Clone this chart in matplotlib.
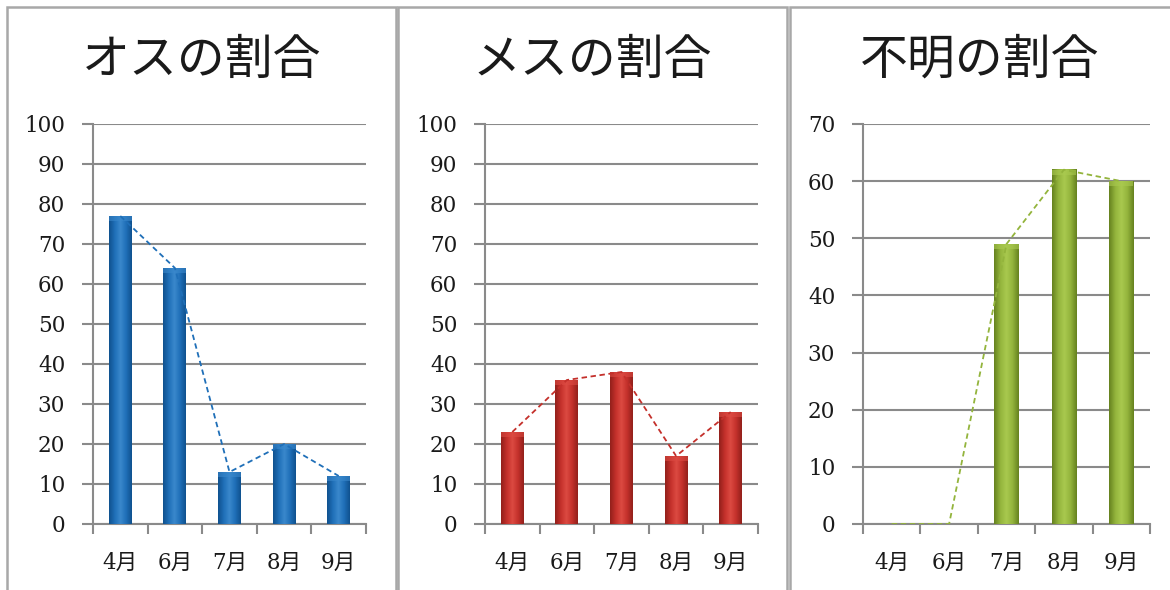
import numpy as np
import matplotlib
matplotlib.use("Agg")
import matplotlib.pyplot as plt
from matplotlib.colors import LinearSegmentedColormap
from matplotlib.patches import Rectangle

months = ["4月", "6月", "7月", "8月", "9月"]
titles = ["オスの割合", "メスの割合", "不明の割合"]
male = [77, 64, 13, 20, 12]
female = [23, 36, 38, 17, 28]
unknown = [0, 0, 49, 62, 60]
ymaxes = [100, 100, 70]

W, H = 1170, 590
fig = plt.figure(figsize=(W / 100, H / 100), dpi=100)
fig.patch.set_facecolor("white")

series = [male, female, unknown]
base_colors = ["#1f6fb8", "#c4302b", "#93b43c"]
dark_colors = ["#10528f", "#92201b", "#66821f"]
light_colors = ["#3a88cc", "#dc4a42", "#a9c94f"]

axes_px = [(93, 366), (485, 758), (863, 1150)]
frames_px = [(7, 396), (398, 787), (790, 1178)]
top_px, bot_px = 124, 524
grid_c = "#8a8a8a"
num_font = ["DejaVu Serif", "Noto Sans CJK JP"]

for i in range(3):
    # panel frame
    fx0, fx1 = frames_px[i]
    fig.patches.append(Rectangle((fx0 / W, -0.05), (fx1 - fx0) / W, (H - 7) / H + 0.05,
                                 transform=fig.transFigure, fill=False,
                                 edgecolor="#a8a8a8", linewidth=1.8))
    x0, x1 = axes_px[i]
    ax = fig.add_axes([x0 / W, (H - bot_px) / H, (x1 - x0) / W, (bot_px - top_px) / H])
    vals = series[i]
    xs = np.arange(len(months))
    bw = 0.42
    cmap = LinearSegmentedColormap.from_list(
        "g", [dark_colors[i], base_colors[i], light_colors[i], base_colors[i], dark_colors[i]])
    grad = np.linspace(0, 1, 64).reshape(1, -1)
    for x, v in zip(xs, vals):
        if v <= 0:
            continue
        ax.bar(x, v, width=bw, color=base_colors[i], zorder=3, linewidth=0)
        ax.imshow(grad, cmap=cmap, aspect="auto", zorder=3.5,
                  extent=(x - bw / 2, x + bw / 2, 0, v), interpolation="bilinear")
        cap = min(v, ymaxes[i] * 0.012)
        ax.bar(x, cap, bottom=v - cap, width=bw, color=light_colors[i],
               alpha=0.6, zorder=3.6, linewidth=0)
    ax.plot(xs, vals, linestyle=(0, (3, 2)), color=base_colors[i], linewidth=1.3, zorder=4)

    ax.set_xlim(-0.5, len(months) - 0.5)
    ax.set_ylim(0, ymaxes[i])
    ax.set_yticks(np.arange(0, ymaxes[i] + 1, 10))
    ax.yaxis.grid(True, color=grid_c, linewidth=1.5)
    ax.set_axisbelow(True)
    for s in ["top", "right"]:
        ax.spines[s].set_visible(False)
    ax.spines["left"].set_color(grid_c)
    ax.spines["left"].set_linewidth(1.5)
    ax.spines["bottom"].set_color(grid_c)
    ax.spines["bottom"].set_linewidth(1.5)
    ax.tick_params(axis="y", length=8, width=1.5, color=grid_c, pad=12,
                   labelsize=15.5, labelcolor="#1a1a1a")
    for lab in ax.get_yticklabels():
        lab.set_family(num_font)
    ax.set_xticks(xs)
    ax.set_xticklabels(months, family=num_font, fontsize=15.5, color="#1a1a1a")
    ax.set_xticks(np.arange(-0.5, len(months), 1.0), minor=True)
    ax.tick_params(axis="x", which="major", length=0, pad=20)
    ax.tick_params(axis="x", which="minor", length=7, width=1.5, color=grid_c)
    ax.set_facecolor("white")

    cx = (fx0 + min(fx1, 1170)) / 2 / W if i < 2 else (fx0 + 1170) / 2 / W
    fig.text(cx, (H - 60) / H, titles[i], ha="center", va="center",
             fontsize=34.5, family=["Noto Sans CJK JP"], color="#1a1a1a")

fig.savefig("out.png", dpi=100, facecolor="white")
